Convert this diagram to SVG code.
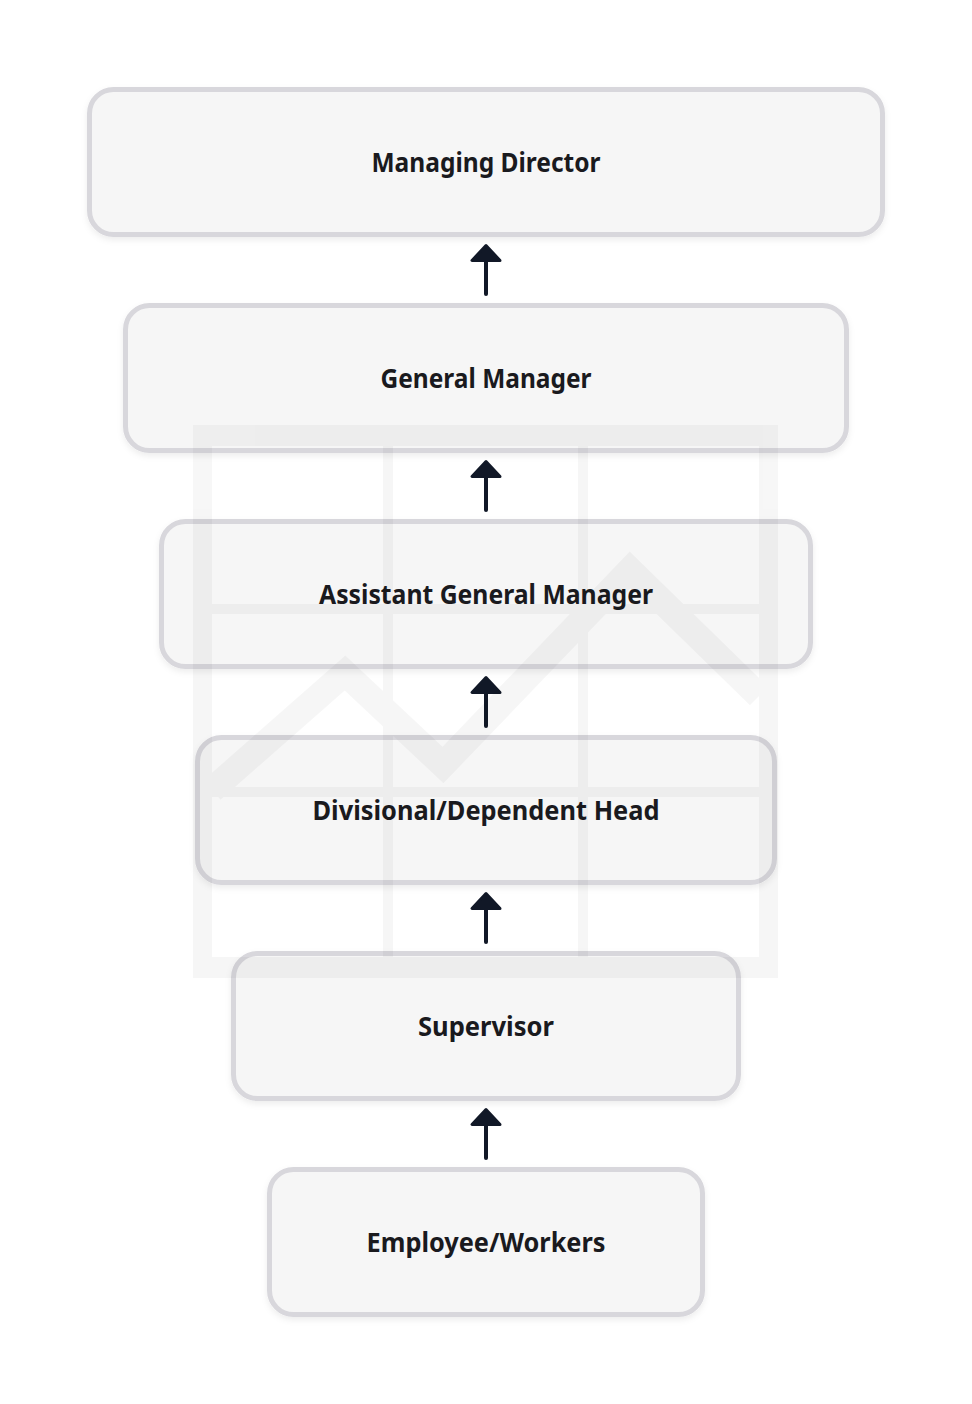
<svg xmlns="http://www.w3.org/2000/svg" width="972" height="1404" viewBox="0 0 972 1404">
  <defs>
    <filter id="shadow" x="-10%" y="-20%" width="120%" height="150%">
      <feDropShadow dx="0" dy="3" stdDeviation="3" flood-color="#000" flood-opacity="0.07"/>
    </filter>
  </defs>
  <style>
    .box { fill: #f6f6f6; stroke: #d8d7dc; stroke-width: 5; filter: url(#shadow); }
    .label { font-family: "Noto Sans", "Open Sans", "Liberation Sans", sans-serif; font-weight: 700; font-size: 26px; fill: #1a1a1e; text-anchor: middle; }
    .shaft { stroke: #111827; stroke-width: 4; stroke-linecap: round; fill: none; }
    .tip { fill: #111827; stroke: #111827; stroke-width: 3; stroke-linejoin: round; }
  </style>
  <rect width="972" height="1404" fill="#ffffff"/>

  <g id="node-managing-director">
    <rect class="box" x="89.5" y="89.5" width="793" height="145" rx="24"/>
    <text class="label" x="486" y="172" textLength="229" lengthAdjust="spacingAndGlyphs">Managing Director</text>
  </g>
  <g id="node-general-manager">
    <rect class="box" x="125.5" y="305.5" width="721" height="145" rx="24"/>
    <text class="label" x="486" y="388" textLength="211" lengthAdjust="spacingAndGlyphs">General Manager</text>
  </g>
  <g id="node-assistant-general-manager">
    <rect class="box" x="161.5" y="521.5" width="649" height="145" rx="24"/>
    <text class="label" x="486" y="604" textLength="334" lengthAdjust="spacingAndGlyphs">Assistant General Manager</text>
  </g>
  <g id="node-divisional-head">
    <rect class="box" x="197.5" y="737.5" width="577" height="145" rx="24"/>
    <text class="label" x="486" y="820" textLength="347" lengthAdjust="spacingAndGlyphs">Divisional/Dependent Head</text>
  </g>
  <g id="node-supervisor">
    <rect class="box" x="233.5" y="953.5" width="505" height="145" rx="24"/>
    <text class="label" x="486" y="1036" textLength="136" lengthAdjust="spacingAndGlyphs">Supervisor</text>
  </g>
  <g id="node-employee-workers">
    <rect class="box" x="269.5" y="1169.5" width="433" height="145" rx="24"/>
    <text class="label" x="486" y="1252" textLength="239" lengthAdjust="spacingAndGlyphs">Employee/Workers</text>
  </g>

  <g id="connectors">
    <g id="edge-gm-md">
      <line class="shaft" x1="486" y1="294" x2="486" y2="258"/>
      <polygon class="tip" points="486,245.5 472,260.5 500,260.5"/>
    </g>
    <g id="edge-agm-gm">
      <line class="shaft" x1="486" y1="510" x2="486" y2="474"/>
      <polygon class="tip" points="486,461.5 472,476.5 500,476.5"/>
    </g>
    <g id="edge-div-agm">
      <line class="shaft" x1="486" y1="726" x2="486" y2="690"/>
      <polygon class="tip" points="486,677.5 472,692.5 500,692.5"/>
    </g>
    <g id="edge-sup-div">
      <line class="shaft" x1="486" y1="942" x2="486" y2="906"/>
      <polygon class="tip" points="486,893.5 472,908.5 500,908.5"/>
    </g>
    <g id="edge-emp-sup">
      <line class="shaft" x1="486" y1="1158" x2="486" y2="1122"/>
      <polygon class="tip" points="486,1109.5 472,1124.5 500,1124.5"/>
    </g>
  </g>

  <g id="watermark" opacity="0.03" fill="#000">
    <path fill-rule="evenodd" d="M193,425 H778 V978 H193 Z M212,446 V957 H759 V446 Z"/>
    <rect x="383" y="446" width="10" height="511"/>
    <rect x="578" y="446" width="10" height="511"/>
    <rect x="212" y="604" width="547" height="10"/>
    <rect x="212" y="787" width="547" height="10"/>
    <polyline points="212,790 345,673 443,765 630,570 759,696" fill="none" stroke="#000" stroke-width="26" stroke-linejoin="miter"/>
  </g>
</svg>
